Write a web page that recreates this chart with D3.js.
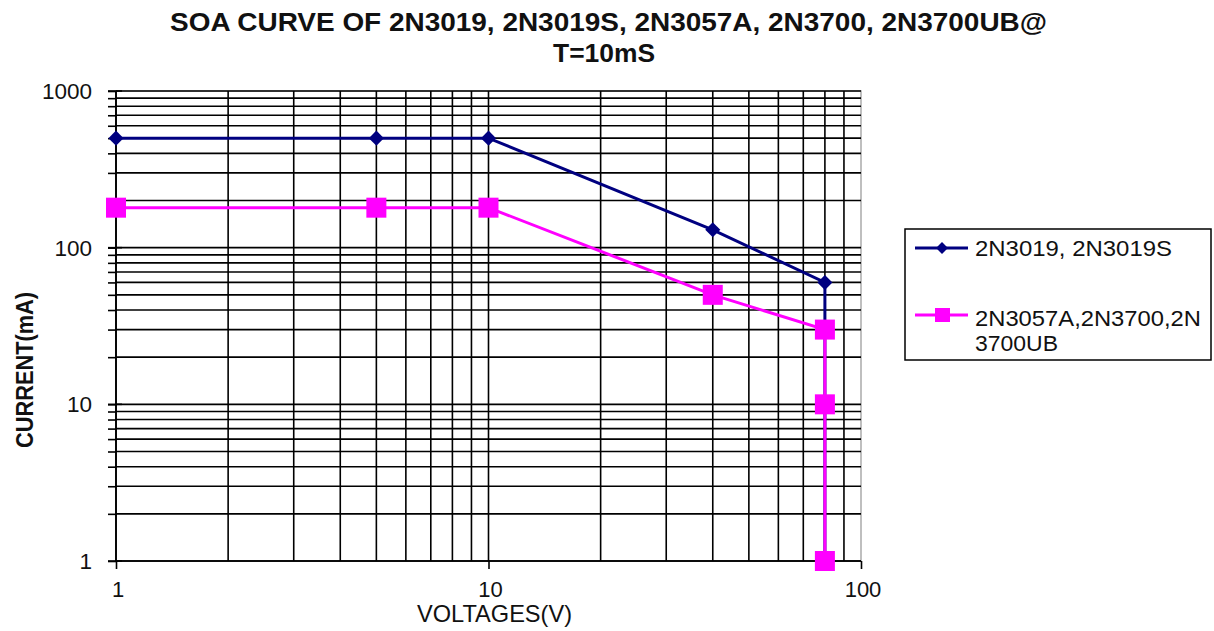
<!DOCTYPE html>
<html>
<head>
<meta charset="utf-8">
<script src="https://cdn.jsdelivr.net/npm/d3@7"></script>
<style>
  body { margin: 0; background: #fff; }
  svg text { font-family: "Liberation Sans", Arial, sans-serif; fill: #111; }
</style>
</head>
<body>
<svg id="chart" width="1214" height="631"></svg>
<script>
// SOA curve data (voltage V, current mA)
const seriesNames = ["2N3019, 2N3019S", "2N3057A,2N3700,2N3700UB"];
const voltsA = [1, 5, 10, 40, 80, 80];
const currentA = [500, 500, 500, 130, 60, 1];
const voltsB = [1, 5, 10, 40, 80, 80, 80];
const currentB = [180, 180, 180, 50, 30, 10, 1];
const xTicks = [1, 10, 100];
const yTicks = [1, 10, 100, 1000];

const margin = {top: 91, left: 116, right: 353, bottom: 70};
const W = 1214, H = 631;
const plotW = W - margin.left - margin.right;
const plotH = H - margin.top - margin.bottom;

const svg = d3.select("#chart");
const g = svg.append("g").attr("transform", "translate(" + margin.left + "," + margin.top + ")");

const x = d3.scaleLog().domain([1, 100]).range([0, plotW]);
const y = d3.scaleLog().domain([1, 1000]).range([plotH, 0]);

// every 1..9 step in each decade
const minorX = [], minorY = [];
[1, 10].forEach(d => { for (let k = 1; k <= 9; k++) minorX.push(d * k); });
minorX.push(100);
[1, 10, 100].forEach(d => { for (let k = 1; k <= 9; k++) minorY.push(d * k); });
minorY.push(1000);

// plot border (light grey)
g.append("rect")
  .attr("width", plotW).attr("height", plotH)
  .attr("fill", "none").attr("stroke", "#aaa").attr("stroke-width", 1.5);

// grid
g.append("g").selectAll("line").data(minorY).enter().append("line")
  .attr("x1", 0).attr("x2", plotW)
  .attr("y1", d => y(d)).attr("y2", d => y(d))
  .attr("stroke", "#000").attr("stroke-width", 1.6);
g.append("g").selectAll("line").data(minorX.filter(d => d < 100)).enter().append("line")
  .attr("y1", 0).attr("y2", plotH)
  .attr("x1", d => x(d)).attr("x2", d => x(d))
  .attr("stroke", "#000").attr("stroke-width", 1.6);

// y axis: minor ticks outside, major ticks crossing the axis
const yAxis = g.append("g")
  .call(d3.axisLeft(y).tickValues(minorY).tickSize(8).tickFormat(""));
yAxis.select(".domain").attr("stroke-width", 1.6).attr("d", "M0,0V" + plotH);
yAxis.selectAll(".tick line").attr("stroke-width", 1.6);
g.append("g").selectAll("line").data(yTicks).enter().append("line")
  .attr("x1", -8).attr("x2", 6).attr("y1", d => y(d)).attr("y2", d => y(d))
  .attr("stroke", "#000").attr("stroke-width", 1.6);
g.append("g").selectAll("text").data(yTicks).enter().append("text")
  .attr("x", -24).attr("y", d => y(d) + 8)
  .attr("text-anchor", "end").attr("font-size", 22.5)
  .text(d => d);

// x axis
const xAxis = g.append("g").attr("transform", "translate(0," + plotH + ")")
  .call(d3.axisBottom(x).tickValues(xTicks).tickSize(8).tickFormat(""));
xAxis.select(".domain").attr("stroke-width", 1.6).attr("d", "M0,0H" + plotW);
xAxis.selectAll(".tick line").attr("stroke-width", 1.6);
g.append("g").selectAll("text").data(xTicks).enter().append("text")
  .attr("x", d => x(d) + 2).attr("y", plotH + 36)
  .attr("text-anchor", "middle").attr("font-size", 22)
  .text(d => d);

// lines
const line = d3.line().x(d => x(d[0])).y(d => y(d[1]));
const dataA = voltsA.map((v, i) => [v, currentA[i]]);
const dataB = voltsB.map((v, i) => [v, currentB[i]]);
const colA = "#000080", colB = "#ff00ff";

g.append("path").datum(dataA).attr("d", line)
  .attr("fill", "none").attr("stroke", colA).attr("stroke-width", 3);
g.append("g").selectAll("path").data(dataA).enter().append("path")
  .attr("transform", d => "translate(" + x(d[0]) + "," + y(d[1]) + ")")
  .attr("d", d3.symbol().type(d3.symbolDiamond2).size(145))
  .attr("fill", colA);

g.append("path").datum(dataB).attr("d", line)
  .attr("fill", "none").attr("stroke", colB).attr("stroke-width", 3);
g.append("g").selectAll("rect").data(dataB).enter().append("rect")
  .attr("x", d => x(d[0]) - 10).attr("y", d => y(d[1]) - 10)
  .attr("width", 20).attr("height", 20)
  .attr("fill", colB);

// title
svg.append("text").attr("x", 170).attr("y", 31)
  .attr("font-size", 26).attr("font-weight", "bold")
  .attr("textLength", 877).attr("lengthAdjust", "spacingAndGlyphs")
  .text("SOA CURVE OF 2N3019, 2N3019S, 2N3057A, 2N3700, 2N3700UB@");
svg.append("text").attr("x", 553).attr("y", 62)
  .attr("font-size", 26).attr("font-weight", "bold")
  .attr("textLength", 102).attr("lengthAdjust", "spacingAndGlyphs")
  .text("T=10mS");

// axis titles
svg.append("text").attr("x", 417).attr("y", 622)
  .attr("font-size", 24)
  .attr("textLength", 155).attr("lengthAdjust", "spacingAndGlyphs")
  .text("VOLTAGES(V)");
svg.append("text")
  .attr("transform", "translate(33,448) rotate(-90)")
  .attr("font-size", 24).attr("font-weight", "bold")
  .attr("textLength", 156).attr("lengthAdjust", "spacingAndGlyphs")
  .text("CURRENT(mA)");

// legend
const leg = svg.append("g").attr("transform", "translate(905,229)");
leg.append("rect").attr("width", 306).attr("height", 131)
  .attr("fill", "#fff").attr("stroke", "#000").attr("stroke-width", 1.5);
leg.append("line").attr("x1", 10).attr("x2", 63).attr("y1", 19).attr("y2", 19)
  .attr("stroke", colA).attr("stroke-width", 3);
leg.append("path").attr("transform", "translate(37,19)")
  .attr("d", d3.symbol().type(d3.symbolDiamond2).size(90)).attr("fill", colA);
leg.append("text").attr("x", 70).attr("y", 27).attr("font-size", 22)
  .attr("textLength", 197).attr("lengthAdjust", "spacingAndGlyphs")
  .text(seriesNames[0]);
leg.append("line").attr("x1", 10).attr("x2", 63).attr("y1", 86).attr("y2", 86)
  .attr("stroke", colB).attr("stroke-width", 3);
leg.append("rect").attr("x", 30).attr("y", 79).attr("width", 15).attr("height", 14).attr("fill", colB);
leg.append("text").attr("x", 70).attr("y", 97).attr("font-size", 22)
  .attr("textLength", 226).attr("lengthAdjust", "spacingAndGlyphs")
  .text(seriesNames[1].slice(0, 17));
leg.append("text").attr("x", 70).attr("y", 122).attr("font-size", 22)
  .attr("textLength", 83).attr("lengthAdjust", "spacingAndGlyphs")
  .text(seriesNames[1].slice(17));
</script>
</body>
</html>
